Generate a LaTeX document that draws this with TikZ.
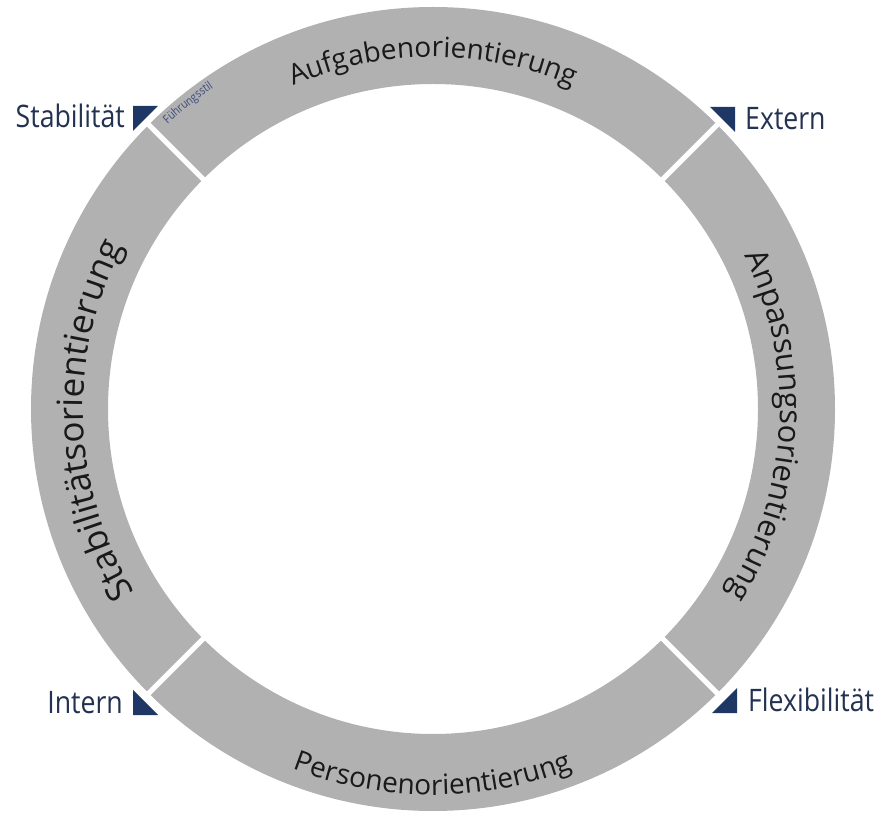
\documentclass[tikz,border=0pt]{standalone}
\usepackage{fontspec}
\setmainfont{Open Sans}
\newfontfamily\labelfont[FakeStretch=0.86]{Open Sans}
\newfontfamily\ringfont{Open Sans}
\newfontfamily\smallfont[FakeStretch=0.85]{Open Sans}
\usetikzlibrary{decorations.text}
\definecolor{ringgray}{RGB}{178,177,178}
\definecolor{navytri}{RGB}{30,55,100}
\definecolor{navytext}{RGB}{35,50,80}
\definecolor{stiltext}{RGB}{60,75,125}
\definecolor{ringtext}{RGB}{25,25,25}
\begin{document}
\begin{tikzpicture}[x=1pt,y=1pt,
  lbl/.style={font=\labelfont\fontsize{31}{36}\selectfont, text=navytext, inner sep=0pt},
  tri/.style={fill=navytri},
  gap/.style={draw=white, line width=5pt},
  ringlbl/.style 2 args={decorate, decoration={text along path, text align=center, text color=ringtext,
      text={|\ringfont\fontsize{#1}{#1}\selectfont|#2}}}
]
\useasboundingbox (0,0) rectangle (876,812);
\coordinate (c) at (433,403);
\fill[ringgray, even odd rule] (c) circle[radius=402] (c) circle[radius=325];
\foreach \a in {45,135,225,315}
  \draw[gap] ([shift={(\a:318)}]c) -- ([shift={(\a:410)}]c);

% triangles
\coordinate (tS) at (133,706);
\coordinate (tE) at (735,705);
\coordinate (tI) at (133,97);
\coordinate (tF) at (737,99);
\fill[tri] (tS) -- ++(25,0) -- ++(-25,-25) -- cycle;
\fill[tri] (tE) -- ++(-25,0) -- ++(25,-25) -- cycle;
\fill[tri] (tI) -- ++(25,0) -- ++(-25,25) -- cycle;
\fill[tri] (tF) -- ++(-25,0) -- ++(25,25) -- cycle;

% labels
\node[lbl, anchor=base east] (stab) at (125,684) {Stabilität};
\node[lbl, anchor=base west] (ext) at (745,682) {Extern};
\node[lbl, anchor=base east] (int) at (123,99) {Intern};
\node[lbl, anchor=base west] (flex) at (748,100) {Flexibilität};

% ring texts
\path[ringlbl={28}{Aufgabenorientierung}] ([shift={(135:352)}]c) arc[start angle=135, end angle=45, radius=352];
\path[ringlbl={35}{Stabilitätsorientierung}] ([shift={(227:350)}]c) arc[start angle=227, end angle=137, radius=350];
\path[ringlbl={31}{Anpassungsorientierung}] ([shift={(42:347)}]c) arc[start angle=42, end angle=-48, radius=347];
\path[ringlbl={28}{Personenorientierung}] ([shift={(225:386)}]c) arc[start angle=225, end angle=315, radius=386];

\path[decorate, decoration={text along path, text color=stiltext,
   text={|\smallfont\fontsize{12}{14}\selectfont|Führungsstil}}]
   ([shift={(133:389)}]c) arc[start angle=133, end angle=100, radius=389];
\end{tikzpicture}
\end{document}
